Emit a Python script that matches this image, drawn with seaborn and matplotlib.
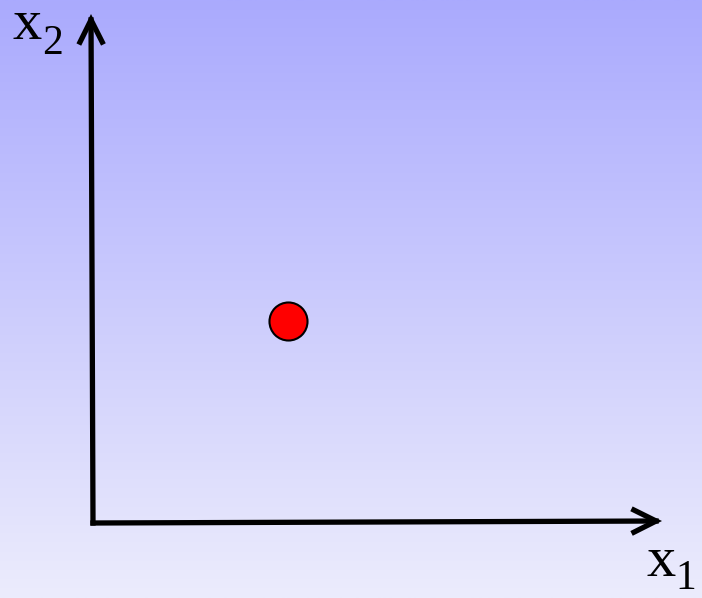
import matplotlib
matplotlib.use("Agg")
import matplotlib.pyplot as plt
import numpy as np
import pandas as pd
import seaborn as sns

# single point in the (x1, x2) plane
x1_vals = [1.95]
x2_vals = [2.02]
axis_labels = ["1", "2"]

sns.set_theme(style="white")
plt.rcParams["font.family"] = ["Liberation Serif", "DejaVu Serif"]
plt.rcParams["mathtext.fontset"] = "custom"
plt.rcParams["mathtext.rm"] = "Liberation Serif"

fig = plt.figure(figsize=(7.02, 5.98), dpi=100)
ax = fig.add_axes([0, 0, 1, 1])

# vertical gradient background
top = np.array([170, 170, 254]) / 255
bottom = np.array([236, 236, 252]) / 255
t = np.linspace(0, 1, 256)[:, None]
grad = top + (bottom - top) * t
ax.imshow(grad[:, None, :], extent=(-0.93, 6.09, -0.75, 5.23),
          aspect="auto", origin="upper", zorder=0)

arrow = dict(arrowstyle="->", lw=3.8, color="black",
             mutation_scale=40, shrinkA=0, shrinkB=0,
             joinstyle="miter", capstyle="projecting")
ax.annotate("", xy=(5.69, 0.02), xytext=(0.0, 0.0), arrowprops=arrow, zorder=2)
ax.annotate("", xy=(-0.02, 5.09), xytext=(0.0, 0.0), arrowprops=arrow, zorder=2)

df = pd.DataFrame({"x1": x1_vals, "x2": x2_vals})
sns.scatterplot(data=df, x="x1", y="x2", ax=ax, s=750, color="red",
                edgecolor="black", linewidth=1.5, zorder=3, legend=False)
ax.set_xlim(-0.93, 6.09)
ax.set_ylim(-0.75, 5.23)
ax.set_axis_off()

# axis labels x2 (top-left) and x1 (bottom-right); mathtext keeps boxes tight
lab = dict(ha="left", va="baseline", color="black")
ax.text(-0.81, 4.84, r"$\mathrm{x}$", fontsize=42, **lab)
ax.text(-0.51, 4.69, r"$\mathrm{%s}$" % axis_labels[1], fontsize=30, **lab)
ax.text(5.53, -0.53, r"$\mathrm{x}$", fontsize=42, **lab)
ax.text(5.82, -0.66, r"$\mathrm{%s}$" % axis_labels[0], fontsize=30, **lab)

fig.savefig("out.png", dpi=100)
